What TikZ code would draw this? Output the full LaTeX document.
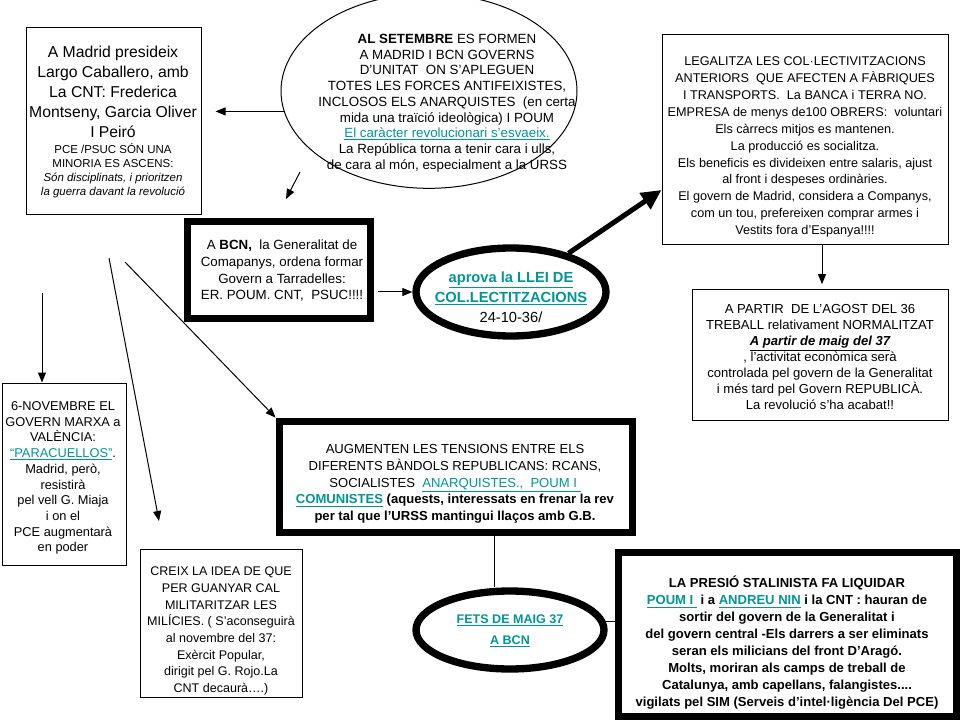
\documentclass[tikz,border=0pt]{standalone}
\usepackage{fontspec}
\setmainfont{Liberation Sans}
\usetikzlibrary{shapes.geometric,arrows.meta}
\definecolor{linkc}{RGB}{0,150,150}
\newcommand{\myul}[1]{\underline{#1}}
\newcommand{\lnk}[1]{\textcolor{linkc}{\underline{#1}}}
\begin{document}
\begin{tikzpicture}[x=0.75pt,y=-0.75pt,
  thinbox/.style={draw, line width=0.75pt, inner sep=0pt},
  thickbox/.style={draw, line width=5.25pt, inner sep=0pt},
  thinell/.style={ellipse, draw, line width=0.75pt, inner sep=0pt},
  thickell/.style={ellipse, draw, line width=5.5pt, inner sep=0pt},
  txt/.style={align=center, inner sep=0pt},
  arr/.style={-{Triangle[length=7.5pt,width=6pt]}, line width=0.75pt},
  bigarr/.style={-{Triangle[length=15pt,width=14pt]}, line width=3.75pt},
  conn/.style={line width=0.75pt}]
\fill[white] (0,0) rectangle (960,720);
\useasboundingbox (0,0) rectangle (960,720);

% shapes
\node[thinbox, minimum width=131.25pt, minimum height=140.25pt] (TL) at (113.5,121.5) {};
\node[thinell, minimum width=222pt, minimum height=146pt] (E1) at (429,91) {};
\node[thinbox, minimum width=214.5pt, minimum height=157.5pt] (TR) at (805,140) {};
\node[thickbox, minimum width=137.25pt, minimum height=72.75pt] (BCN) at (279,270) {};
\node[thickell, minimum width=142.5pt, minimum height=66pt] (E2) at (511,292) {};
\node[thinbox, minimum width=192pt, minimum height=97.5pt] (RM) at (820,355) {};
\node[thinbox, minimum width=93pt, minimum height=136.5pt] (NOV) at (64,474) {};
\node[thickbox, minimum width=264.75pt, minimum height=83.25pt] (AUG) at (455.5,476.5) {};
\node[thinbox, minimum width=121.5pt, minimum height=111pt] (BL) at (221,623) {};
\node[thickell, minimum width=141pt, minimum height=58.5pt] (E3) at (510,630) {};
\node[thickbox, minimum width=253.5pt, minimum height=123pt] (BR) at (787,634) {};

% texts
\node[txt, font=\fontsize{11.8}{15}\selectfont] (TLa) at (113,92)
 {A Madrid presideix\\Largo Caballero, amb\\La CNT: Frederica\\Montseny, Garcia Oliver\\I Peiró};
\node[txt, font=\fontsize{8.6}{10.5}\selectfont] (TLb) at (113,171)
 {PCE /PSUC SÓN UNA\\MINORIA ES ASCENS:\\\itshape Són disciplinats, i prioritzen\\\itshape la guerra davant la revolució};

\node[txt, font=\fontsize{10}{11.8}\selectfont] (T1) at (447,103)
 {\textbf{AL SETEMBRE} ES FORMEN\\A MADRID I BCN GOVERNS\\D’UNITAT\ \ ON S’APLEGUEN\\TOTES LES FORCES ANTIFEIXISTES,\\INCLOSOS ELS ANARQUISTES\ \ (en certa\\mida una traïció ideològica) I POUM\\\lnk{El caràcter revolucionari s’esvaeix.}\\La República torna a tenir cara i ulls,\\de cara al món, especialment a la URSS};

\node[txt, font=\fontsize{9.5}{12.7}\selectfont] (T2) at (805,147)
 {LEGALITZA LES COL·LECTIVITZACIONS\\ANTERIORS\ \ QUE AFECTEN A FÀBRIQUES\\I TRANSPORTS.\ \ La BANCA i TERRA\ NO.\\EMPRESA de menys de100 OBRERS:\ \ voluntari\\Els càrrecs mitjos es mantenen.\\La producció es socialitza.\\Els beneficis es divideixen entre salaris, ajust\\al front i despeses ordinàries.\\El govern de Madrid, considera a Companys,\\com un tou, prefereixen comprar armes i\\Vestits fora d’Espanya!!!!};

\node[txt, font=\fontsize{10}{12.5}\selectfont] (T3) at (282,271)
 {A \textbf{BCN,}\ \ la Generalitat\ de\\Comapanys, ordena formar\\Govern a Tarradelles:\\ER. POUM. CNT,\ \ PSUC!!!!};

\node[txt, font=\fontsize{11}{15}\selectfont] (T4) at (511,297)
 {\lnk{\textbf{aprova la LLEI DE}}\\\lnk{\textbf{COL.LECTITZACIONS}}\\24-10-36/};

\node[txt, font=\fontsize{9.8}{12}\selectfont] (T5) at (820,357)
 {A PARTIR\ \ DE L’AGOST\ DEL 36\\TREBALL\ relativament NORMALITZAT\\\textbf{\textit{\myul{A partir de maig del 37}}}\\, l’activitat econòmica serà\\controlada pel govern de la Generalitat\\i més tard pel Govern REPUBLICÀ.\\La revolució s’ha acabat!!};

\node[txt, font=\fontsize{9.6}{11.8}\selectfont] (T6) at (63,478)
 {6-NOVEMBRE\ EL\\GOVERN MARXA a\\VALÈNCIA:\\\lnk{“PARACUELLOS”}.\\Madrid, però,\\resistirà\\pel vell G. Miaja\\i on el\\PCE augmentarà\\en poder};

\node[txt, font=\fontsize{9.8}{12.5}\selectfont] (T7) at (455,484)
 {AUGMENTEN\ LES TENSIONS\ ENTRE\ ELS\\DIFERENTS\ BÀNDOLS REPUBLICANS:\ RCANS,\\SOCIALISTES\ \ \lnk{ANARQUISTES.,\ \ POUM I\ }\\\lnk{\textbf{COMUNISTES}} \textbf{(aquests,\ interessats\ en frenar\ la rev}\\\textbf{per tal que l’URSS mantingui llaços amb G.B.}};

\node[txt, font=\fontsize{9.4}{12.5}\selectfont] (T8) at (221,631)
 {CREIX LA IDEA DE QUE\\PER GUANYAR CAL\\MILITARITZAR\ LES\\MILÍCIES.\ ( S’aconseguirà\\al novembre del 37:\\Exèrcit Popular,\\dirigit pel G. Rojo.La\\CNT\ decaurà….)};

\node[txt, font=\fontsize{9.4}{15.75}\selectfont] (T9) at (510,631)
 {\lnk{\textbf{FETS DE MAIG 37}}\\\lnk{\textbf{A BCN}}};

\node[txt, font=\fontsize{9.8}{12.75}\selectfont\bfseries] (T10) at (787,643)
 {LA PRESIÓ STALINISTA FA LIQUIDAR\\\lnk{POUM I\ } i a \lnk{ANDREU\ NIN} i la CNT\ : hauran de\\sortir del govern de la Generalitat i\\del govern central -Els darrers a ser eliminats\\seran els milicians del front D’Aragó.\\Molts, moriran als camps de treball de\\Catalunya, amb capellans, falangistes....\\vigilats pel SIM (Serveis d’intel·ligència Del PCE)};

% connectors
\draw[arr] (E1.188) -- ([xshift=10.5pt]TL.east |- E1.188);
\coordinate (b1) at (300,172);
\coordinate (b2) at (286,199);
\draw[arr] (b1) -- (b2);
\draw[arr, shorten <=3pt] (BCN.east |- E2.west) -- (E2.west);
\draw[bigarr] (E2.34) -- ([yshift=-37.5pt]TR.west);
\draw[arr, shorten >=4pt] ([xshift=12.75pt]TR.south) -- ([xshift=12.75pt]TR.south |- RM.north);
\coordinate (f1) at (42,293);
\draw[arr] (f1) -- (f1 |- NOV.north);
\coordinate (g1) at (109,258);
\coordinate (g2) at (159,521);
\draw[arr] (g1) -- (g2);
\coordinate (h1) at (125,262);
\draw[arr] (h1) -- (AUG.north west);
\draw[conn] ([xshift=29.6pt]AUG.south) -- ([xshift=29.6pt]AUG.south |- E3.north);
\draw[conn] (E3.5) -- (E3.5 -| BR.west);
\end{tikzpicture}
\end{document}
